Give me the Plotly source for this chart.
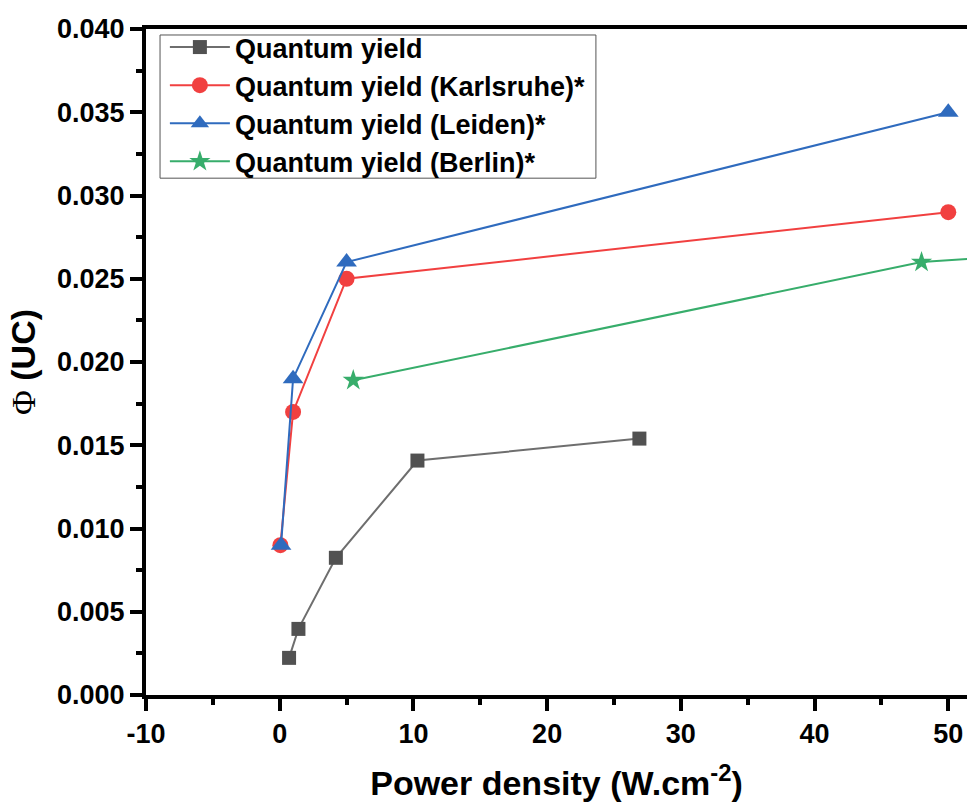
import plotly.graph_objects as go

# quantum yield vs power density
qy_x = [0.7, 1.4, 4.2, 10.3, 26.9]
qy_y = [0.00223, 0.00397, 0.00824, 0.01408, 0.0154]

karlsruhe_x = [0.05, 1.0, 5.0, 50.0]
karlsruhe_y = [0.009, 0.017, 0.025, 0.029]

leiden_x = [0.1, 1.0, 5.0, 50.0]
leiden_y = [0.009, 0.019, 0.026, 0.035]

berlin_x = [5.5, 48.0, 60.0]
berlin_y = [0.0189, 0.026, 0.02665]

names = ["Quantum yield", "Quantum yield (Karlsruhe)*",
         "Quantum yield (Leiden)*", "Quantum yield (Berlin)*"]

x_tickvals = [-10, 0, 10, 20, 30, 40, 50]
x_ticktext = ["-10", "0", "10", "20", "30", "40", "50"]

colors = ["#515151", "#F14040", "#2F6BBE", "#37AD6B"]
line_colors = ["#6e6e6e", "#F14040", "#2F6BBE", "#37AD6B"]
symbols = ["square", "circle", "triangle-up", "star"]
sizes = [14, 16, 18, 16]

FONT = "Liberation Sans, Arial, sans-serif"

fig = go.Figure()
for xs, ys, name, c, lc, sym, sz in zip(
        [qy_x, karlsruhe_x, leiden_x, berlin_x],
        [qy_y, karlsruhe_y, leiden_y, berlin_y],
        names, colors, line_colors, symbols, sizes):
    fig.add_trace(go.Scatter(
        x=xs, y=ys, name=name, mode="lines+markers",
        line=dict(color=lc, width=2),
        marker=dict(symbol=sym, size=sz, color=c, line=dict(width=0)),
    ))

fig.update_layout(
    width=967, height=805,
    margin=dict(l=146, r=0, t=29, b=110),
    plot_bgcolor="white", paper_bgcolor="white",
    font=dict(family=FONT, color="black"),
    legend=dict(
        x=0.023, y=1.009, xanchor="left", yanchor="top",
        borderwidth=0, bgcolor="rgba(0,0,0,0)",
        font=dict(family=FONT, size=27, color="black", weight="bold"),
        itemwidth=60, tracegroupgap=0,
    ),
    # legend frame drawn separately so the entries can sit tighter
    shapes=[dict(type="rect", xref="paper", yref="paper",
                 x0=0.0171, x1=0.548, y0=0.776, y1=0.991,
                 line=dict(color="#555555", width=1), fillcolor="white",
                 layer="below")],
)

fig.update_xaxes(
    range=[-10, 51.4], tickvals=x_tickvals, ticktext=x_ticktext,
    showgrid=False, zeroline=False,
    showline=True, linewidth=4, linecolor="black", mirror=True,
    ticks="outside", ticklen=12, tickwidth=4, tickcolor="black",
    minor=dict(dtick=5, tick0=0, ticks="outside", ticklen=6, tickwidth=4, tickcolor="black"),
    tickfont=dict(family=FONT, size=27, weight="bold"),
    title=dict(text="Power density (W.cm<sup>-2</sup>)",
               font=dict(family=FONT, size=34, weight="bold"), standoff=24),
)

fig.update_yaxes(
    range=[0, 0.04], dtick=0.005, tickformat=".3f",
    showgrid=False, zeroline=False,
    showline=True, linewidth=4, linecolor="black", mirror=False,
    ticks="outside", ticklen=12, tickwidth=4, tickcolor="black",
    minor=dict(dtick=0.0025, ticks="outside", ticklen=6, tickwidth=4, tickcolor="black"),
    tickfont=dict(family=FONT, size=27, weight="bold"),
    title=dict(text="<span style='font-family:Liberation Serif;font-weight:normal'>Φ</span> (UC)",
               font=dict(family=FONT, size=34, weight="bold"), standoff=12),
)

fig.write_html("out.html", config={"displayModeBar": False},
               post_script="document.body.style.margin='0px';")
